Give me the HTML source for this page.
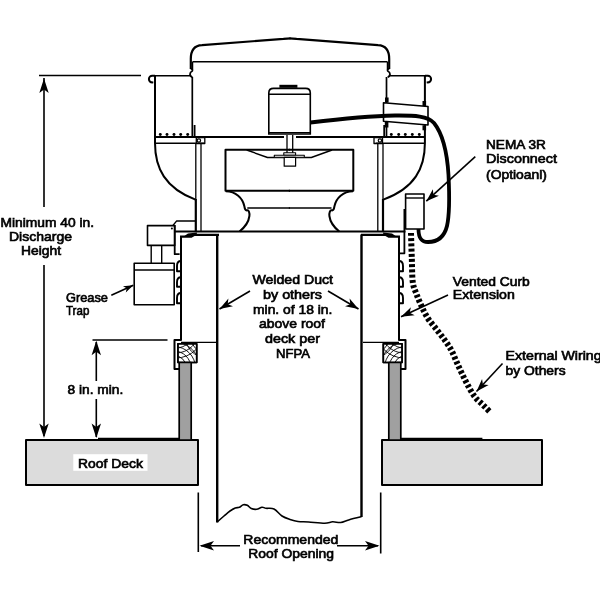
<!DOCTYPE html>
<html><head><meta charset="utf-8"><style>
html,body{margin:0;padding:0;background:#fff;width:600px;height:600px;overflow:hidden}
svg{display:block;will-change:transform}
text{font-family:"Liberation Sans",sans-serif;font-size:13px;fill:#000;stroke:#000;stroke-width:0.65}
</style></head><body>
<svg width="600" height="600" viewBox="0 0 600 600">
<defs>
<marker id="ah" viewBox="0 0 10 10" refX="9" refY="5" markerWidth="10" markerHeight="10" markerUnits="userSpaceOnUse" orient="auto-start-reverse">
<path d="M0,0 L10,5 L0,10 L3,5 Z" fill="#000"/>
</marker>
<clipPath id="nclip"><rect x="178" y="344" width="18.5" height="18.3"/></clipPath>
<g id="grain" clip-path="url(#nclip)" fill="none" stroke="#000" stroke-width="0.9">
<circle cx="174" cy="368" r="8"/><circle cx="174" cy="368" r="12.5"/><circle cx="174" cy="368" r="17"/><circle cx="174" cy="368" r="21.5"/><circle cx="174" cy="368" r="26"/>
<circle cx="205" cy="338" r="9"/><circle cx="205" cy="338" r="14"/><circle cx="205" cy="338" r="19"/><circle cx="176" cy="330" r="18"/><circle cx="176" cy="330" r="23"/><circle cx="176" cy="330" r="28"/>
</g>
<marker id="dart" viewBox="-14 -6 16 12" refX="0" refY="0" markerWidth="16" markerHeight="12" markerUnits="userSpaceOnUse" orient="auto">
<path d="M0,0 L-13,-4.5 L-9.5,0 L-13,4.5 Z" fill="#000"/>
</marker>
<marker id="dart2" viewBox="-11 -5 13 10" refX="0" refY="0" markerWidth="13" markerHeight="10" markerUnits="userSpaceOnUse" orient="auto">
<path d="M0,0 L-9.8,-3.4 L-7.2,0 L-9.8,3.4 Z" fill="#000"/>
</marker>
</defs>
<g fill="none" stroke="#000" stroke-width="1.6" stroke-linejoin="round">

<!-- decks -->
<rect x="26" y="440" width="172" height="45" fill="#dcdcdc" stroke-width="2"/>
<rect x="382" y="440" width="160" height="45" fill="#dcdcdc" stroke-width="2"/>
<rect x="73.3" y="454.2" width="74.2" height="16.6" fill="#fff" stroke="none"/>

<!-- symmetric housing half -->
<g id="half">
  <!-- cap -->
  <path d="M190.8,69 L190.8,59 Q190.8,45.6 202,45.1 L283.5,38.9 Q287.5,38.3 290.5,38.3" stroke-width="2.2"/>
  <path d="M192.5,61.8 L290,61.8"/><path d="M192.5,61.8 L192.5,69.5" stroke-width="1.5"/>
  <!-- notch -->
  <path d="M190.8,68.6 Q193,69.3 192.3,71 Q190,72 190,74.3 Q190.3,76.3 192.3,77.3" stroke-width="1.8"/>
  <!-- side box -->
  <path d="M154,75.8 L190,75.8"/>
  <path d="M155,75.8 L152.2,75.8 A3.3,3.3 0 0 0 152.2,82.4 L153.3,82.3" stroke-width="2"/>
  <!-- plate -->
  <path d="M155,137 L284,137" stroke-width="2.2"/>
  <path d="M155,143.3 L204.3,143.3"/>
  <!-- housing bottom -->
  <path d="M174.5,231.5 L290,231.5" stroke-width="2.2"/>
  <!-- curb -->
  <path d="M180,236.7 L191,236.7 L194.5,234.8 L219,234.8" stroke-width="2.2"/><path d="M184,236.2 L188,233.6 L197,232.6 L196.5,235.2 L191,236.6 Z" fill="#000" stroke="none"/>
  <path d="M181,236.7 L181,340 L174.5,340 L174.5,369 L180,369" stroke-width="2"/>
  <path d="M181,342.3 L217,342.3" stroke-width="1.2"/>
  <!-- louvers -->
  <path d="M181,261 C178.2,261 177,263.5 177,266 L177,271.3 L181,271.3" stroke-width="1.9"/>
  <path d="M181,277.3 C178.2,277.3 177,279.8 177,282.3 L177,286.8 L181,286.8" stroke-width="1.9"/>
  <path d="M181,293 C178.2,293 177,295.5 177,298 L177,303.2 L181,303.2" stroke-width="1.9"/>
  <!-- nailer -->
  <rect x="177.9" y="343.8" width="18.8" height="18.7" fill="#fff" stroke-width="1.6"/><use href="#grain"/><rect x="177.9" y="343.8" width="18.8" height="18.7" stroke-width="1.6"/>
  <!-- post -->
  <rect x="179.2" y="362.5" width="12" height="77.5" fill="#a0a0a0" stroke-width="1.7"/>
</g>
<use href="#half" transform="translate(580,0) scale(-1,1)"/>
<g id="halfin">
  <!-- cap body wall -->
  <path d="M192.3,77 L192.3,137" stroke-width="1.7"/>
  <!-- short dark vertical -->
  <path d="M194.6,125 L194.6,137" stroke-width="1.8"/>
  <rect x="196.3" y="137.5" width="8.5" height="6" stroke-width="1.3"/>
  <circle cx="198.9" cy="140.5" r="1.7" stroke-width="1.2"/>
  <!-- inner walls -->
  <path d="M195.8,143 L195.8,200" stroke-width="1.3"/><path d="M195.8,199 L195.8,231.5" stroke-width="2.2"/>
  <path d="M201,143 L201,231.5" stroke-width="1.3"/>
  <!-- fan wheel -->
  <path d="M290,149.7 L225.5,149.7 L225.5,190.8 L290,190.8" stroke-width="2"/>
  <path d="M246.7,150 L267.5,157.5 L290,157.5" stroke-width="1.4"/>
  <!-- inlet cone -->
  <path d="M225.75,191.3 C236,191.5 242.5,198 244.3,206 C244.8,209 245.5,210.8 247.2,210.3 C248.7,209.9 249.8,213 249.4,216 C248.8,221 244.5,227.5 239.5,231.5" stroke-width="2"/>
  <path d="M247.3,208 L290,208" stroke-width="1.6"/>
</g>
<use href="#halfin" transform="translate(578.8,0) scale(-1,1)"/>
<!-- outer walls + bowls -->
<path d="M155,76 L155,143 C155,168 165,188 195.5,199.6" stroke-width="2"/>
<path d="M424.9,76 L424.9,143 C424.9,168 414.9,188 383.3,199.6" stroke-width="2"/>

<!-- duct walls -->
<path d="M217.2,234.5 L217.2,522.5 M361.5,517 L361.5,234.5" stroke-width="2.4"/>
<path d="M217.2,522.0 C218.3,521.0 221.9,517.8 224.0,516.0 C226.1,514.2 228.1,512.3 230.0,511.0 C231.9,509.7 233.8,508.6 235.3,508.0 C236.9,507.4 238.0,507.9 239.3,507.3 C240.6,506.8 242.0,505.0 243.3,504.7 C244.6,504.4 246.0,504.7 247.3,505.3 C248.6,505.9 249.7,507.8 251.3,508.5 C252.9,509.2 254.9,509.5 256.7,509.3 C258.5,509.1 260.4,507.4 262.0,507.2 C263.6,507.0 264.0,508.0 266.0,508.3 C268.0,508.6 271.3,507.7 274.0,509.0 C276.7,510.3 279.3,514.2 282.0,516.0 C284.7,517.8 287.3,518.6 290.0,519.5 C292.7,520.4 294.9,521.1 298.0,521.5 C301.1,521.9 304.2,521.7 308.7,522.0 C313.1,522.3 320.7,523.2 324.7,523.2 C328.7,523.2 330.0,521.9 332.7,521.8 C335.4,521.7 338.0,522.8 340.7,522.5 C343.4,522.2 345.2,520.9 348.7,519.9 C352.2,518.9 359.4,517.2 361.5,516.7" stroke-width="1.6"/>

<!-- motor -->
<path d="M268.8,134 L268.8,93 Q268.8,88.4 273.5,88.4 L305.6,88.4 Q310.3,88.4 310.3,93 L310.3,134 Z" fill="#fff" stroke-width="1.6" stroke-linejoin="miter"/>
<path d="M268.8,94.2 L310.3,94.2" stroke-width="1.4"/>
<path d="M268.8,132.6 L310.3,132.6" stroke-width="1.1"/>
<rect x="279.4" y="84.8" width="18" height="3" fill="#000" stroke="none"/>
<!-- shaft -->
<path d="M287,135 L287,153 M292.7,135 L292.7,153" stroke-width="1.3"/>
<!-- hub -->
<rect x="283.8" y="152.8" width="11.8" height="2.4" fill="#fff" stroke-width="1.1"/>
<rect x="274.3" y="155.3" width="30" height="2" fill="#fff" stroke-width="1.1"/>
<rect x="284.2" y="157.4" width="11.4" height="8.8" fill="#fff" stroke-width="1.2"/>

<!-- clamp -->
<path d="M383.5,102.8 L428,106.5 L428,125 L383.5,121.2 Z" fill="#fff" stroke-width="1.6"/>
<g fill="#000" stroke="none">
<rect x="385" y="97.5" width="3.6" height="5"/>
<rect x="422.5" y="101" width="3.6" height="5"/>
<rect x="384.8" y="121.5" width="3.6" height="6"/>
<rect x="422.5" y="125.3" width="3.6" height="5"/>
</g>
<!-- cable -->
<path d="M310.5,122.5 C335,119.5 365,116 395,115.5 C415,115.3 428,116 434,123 C442,133 447,150 448.5,175 C449.5,195 449.5,215 447,226 C444,238 436,242 428,242 C420,242 418.5,236 418.5,229" stroke-width="3.8" stroke-linecap="butt"/>
<!-- dots -->
<g fill="#000" stroke="none">
<circle cx="160.3" cy="134.5" r="1.45"/><circle cx="167" cy="134.5" r="1.45"/><circle cx="174" cy="134.5" r="1.45"/><circle cx="180.7" cy="134.5" r="1.45"/><circle cx="187.7" cy="134.5" r="1.45"/>
<circle cx="391.3" cy="134.5" r="1.45"/><circle cx="398.7" cy="134.5" r="1.45"/><circle cx="405.3" cy="134.5" r="1.45"/><circle cx="412.3" cy="134.5" r="1.45"/><circle cx="419.3" cy="134.5" r="1.45"/>
</g>

<!-- disconnect box -->
<rect x="405.6" y="194" width="18.4" height="35" fill="#fff" stroke-width="1.6"/>
<path d="M405.6,198 L424,198" stroke-width="1.4"/>
<path d="M404.4,209 L404.4,253.3 L399.5,253.3" stroke-width="1.8"/>

<!-- dashed external wire -->
<path d="M411.0,233.0 C411.1,237.2 411.5,249.8 411.8,258.0 C412.1,266.2 412.0,276.3 412.8,282.3 C413.6,288.3 415.1,290.1 416.5,294.0 C417.9,297.9 419.6,301.9 421.5,306.0 C423.4,310.1 425.4,314.5 428.0,318.5 C430.6,322.5 434.2,326.3 437.0,330.0 C439.8,333.7 442.6,337.1 445.0,340.5 C447.4,343.9 449.6,347.0 451.5,350.5 C453.4,354.0 454.8,357.9 456.5,361.7 C458.2,365.5 459.9,369.4 461.8,373.3 C463.7,377.2 465.6,381.1 467.7,385.0 C469.8,388.9 472.2,393.4 474.7,396.7 C477.2,400.0 480.2,402.2 482.8,404.8 C485.4,407.4 488.8,410.8 490.0,412.0" stroke-width="6" stroke-dasharray="3,2.2"/>

<!-- grease trap -->
<rect x="147.5" y="225.6" width="27.2" height="19.8" fill="#fff" stroke-width="1.6"/>
<path d="M151.2,245.5 L151.2,263.3 M161.7,245.5 L161.7,263.3" stroke-width="1.4"/>
<rect x="134.2" y="263.3" width="40" height="41.4" fill="#fff" stroke-width="1.6"/>
<path d="M134.2,270 L174.2,270" stroke-width="1.4"/>
<path d="M173,225.4 L176.5,221.1 L195,221.1" stroke-width="1.5"/><circle cx="171.9" cy="228.4" r="1" fill="#000" stroke="none"/>
<path d="M174.7,225 L174.7,254.2 L179.6,254.2" stroke-width="1.8"/>

<!-- dimension lines -->
<path d="M39,75.5 L141,75.5" stroke-width="1.6"/>
<path d="M44,78 L44,207 M44,265 L44,436" stroke-width="1.6"/>
<path d="M92.5,340 L167.5,340" stroke-width="1.6"/>
<path d="M96.3,342 L96.3,381 M96.3,399 L96.3,437" stroke-width="1.6"/>
<path d="M98,438.7 L180,438.7" stroke-width="2"/>
<path d="M400,438.7 L482.4,438.7" stroke-width="2"/>
<path d="M198.3,492.5 L198.3,552 M380.7,492.5 L380.7,553.5" stroke-width="1.6"/>
<path d="M240,545.7 L201,545.7 M337,545.7 L378,545.7" stroke-width="1.6"/>

<!-- leader arrows -->
<path d="M111.3,295.3 L133.3,285.3" stroke-width="1.6" marker-end="url(#dart2)"/>
<path d="M250,291 L219.5,309" stroke-width="1.6" marker-end="url(#dart)"/>
<path d="M328,291 L358.5,309" stroke-width="1.6" marker-end="url(#dart)"/>
<path d="M475.3,156.7 L426.3,201.2" stroke-width="1.6" marker-end="url(#dart)"/>
<path d="M448,295 L401,316.7" stroke-width="1.6" marker-end="url(#dart)"/>
<path d="M502.5,363.5 L476.5,391.5" stroke-width="1.6" marker-end="url(#dart)"/>
</g>

<!-- arrowheads -->
<g fill="#000">
<path d="M44,78.5 L39.3,93 L44,89.5 L48.7,93 Z"/>
<path d="M44,438 L39.3,423.5 L44,427 L48.7,423.5 Z"/>
<path d="M96.3,340.8 L91.6,355.3 L96.3,351.8 L101,355.3 Z"/>
<path d="M96.3,438 L91.6,423.5 L96.3,427 L101,423.5 Z"/>
<path d="M199.5,545.7 L214,541 L210.5,545.7 L214,550.4 Z"/>
<path d="M379.5,545.7 L365,541 L368.5,545.7 L365,550.4 Z"/>
</g>

<!-- text -->
<g>
<text x="0.5" y="227" textLength="93.5" lengthAdjust="spacingAndGlyphs">Minimum 40 in.</text>
<text x="9" y="241" textLength="63" lengthAdjust="spacingAndGlyphs">Discharge</text>
<text x="21" y="254.5" textLength="40" lengthAdjust="spacingAndGlyphs">Height</text>
<text x="66" y="302.2" textLength="42" lengthAdjust="spacingAndGlyphs">Grease</text>
<text x="66" y="314.5" textLength="23.3" lengthAdjust="spacingAndGlyphs">Trap</text>
<text x="67.5" y="394.3" textLength="55.7" lengthAdjust="spacingAndGlyphs">8 in. min.</text>
<text x="78" y="467.9" textLength="65" lengthAdjust="spacingAndGlyphs">Roof Deck</text>
<text x="252.4" y="284.4" textLength="80.6" lengthAdjust="spacingAndGlyphs">Welded Duct</text>
<text x="263" y="298.9" textLength="59" lengthAdjust="spacingAndGlyphs">by others</text>
<text x="253" y="313.6" textLength="79.4" lengthAdjust="spacingAndGlyphs">min. of 18 in.</text>
<text x="259" y="328.2" textLength="66" lengthAdjust="spacingAndGlyphs">above roof</text>
<text x="265" y="342.9" textLength="55" lengthAdjust="spacingAndGlyphs">deck per</text>
<text x="276" y="357.5" textLength="34" lengthAdjust="spacingAndGlyphs">NFPA</text>
<text x="486" y="149.4" textLength="60" lengthAdjust="spacingAndGlyphs">NEMA 3R</text>
<text x="486" y="163.4" textLength="71" lengthAdjust="spacingAndGlyphs">Disconnect</text>
<text x="486" y="178.9" textLength="61" lengthAdjust="spacingAndGlyphs">(Optioanl)</text>
<text x="452.8" y="285.5" textLength="77" lengthAdjust="spacingAndGlyphs">Vented Curb</text>
<text x="452.8" y="298.8" textLength="62" lengthAdjust="spacingAndGlyphs">Extension</text>
<text x="505.6" y="360.2" textLength="96" lengthAdjust="spacingAndGlyphs">External Wiring</text>
<text x="505.6" y="375.4" textLength="60" lengthAdjust="spacingAndGlyphs">by Others</text>
<text x="243.3" y="544" textLength="95" lengthAdjust="spacingAndGlyphs">Recommended</text>
<text x="248.3" y="558.3" textLength="85.7" lengthAdjust="spacingAndGlyphs">Roof Opening</text>
</g>
</svg>
</body></html>
